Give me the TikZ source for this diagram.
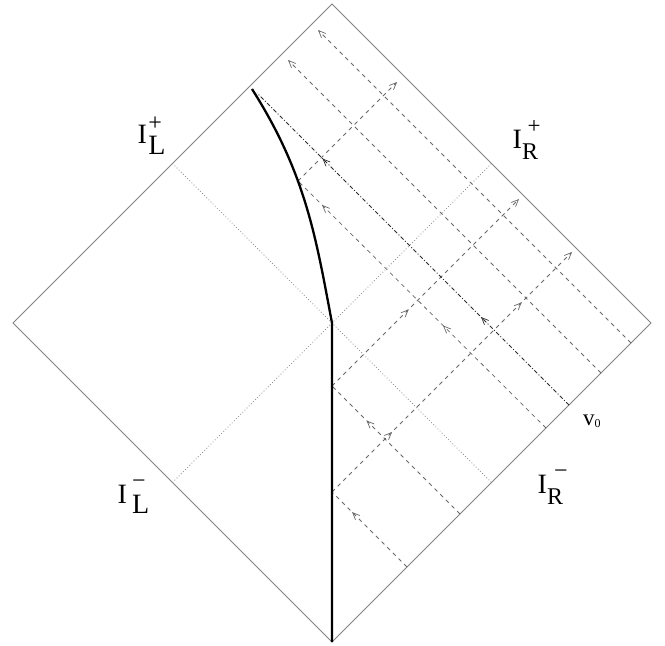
\documentclass[tikz,border=0pt]{standalone}
\usepackage{fontspec}
\setmainfont{Liberation Serif}
\usetikzlibrary{arrows.meta,decorations.markings}
\definecolor{framegray}{RGB}{130,130,130}
\definecolor{raygray}{RGB}{105,105,105}
\definecolor{vgray}{RGB}{45,45,45}
\definecolor{dotgray}{RGB}{145,145,145}
\begin{document}
\begin{tikzpicture}[x=1pt,y=-1pt,
  frame/.style={draw=framegray, line width=0.8pt},
  mirror/.style={draw=black, line width=2.3pt, line join=round},
  ray/.style={draw=raygray, line width=0.75pt, dash pattern=on 4pt off 4pt},
  vray/.style={draw=vgray, line width=0.8pt, dash pattern=on 4pt off 2pt on 1pt off 2pt},
  horizon/.style={draw=dotgray, line width=0.8pt, dash pattern=on 0.8pt off 2.2pt},
  tipat/.style={postaction={decorate, decoration={markings,
      mark=at position #1 with {\arrow[line width=0.7pt]{Straight Barb[length=7pt,width=6pt]}}}}},
  endtip/.style={-{Straight Barb[length=7pt,width=6pt,line width=0.7pt]}},
  lbl/.style={inner sep=0pt, anchor=base west, font=\fontsize{28}{28}\selectfont}
]
\useasboundingbox (0,0) rectangle (665,646);
% diamond vertices
\coordinate (T) at (332,4);
\coordinate (Rv) at (651,323);
\coordinate (B) at (332,642);
\coordinate (Lv) at (13,323);
\coordinate (C) at (332,323);
\coordinate (Mt) at (252,89);
% edge midpoints
\coordinate (mUL) at (172.5,163.5);
\coordinate (mLR) at (491.5,482.5);
\coordinate (mLL) at (172.5,482.5);
\coordinate (mUR) at (491.5,163.5);
% ray endpoints
\coordinate (L1) at (407,567);
\coordinate (M1) at (332,492);
\coordinate (E1) at (572,252);
\coordinate (L2) at (460,514);
\coordinate (M2) at (332,386);
\coordinate (E2) at (519,199);
\coordinate (L3) at (546,428);
\coordinate (M3) at (298,181);
\coordinate (E3) at (397,82);
\coordinate (L4) at (569,405);
\coordinate (T4) at (257,93);
\coordinate (L5) at (601,373);
\coordinate (E5) at (288,60);
\coordinate (L6) at (631,343);
\coordinate (E6) at (318,30);

% frame
\draw[frame] (T) -- (Rv) -- (B) -- (Lv) -- cycle;
% horizons through the centre
\draw[horizon] (mUL) -- (C) -- (mLR);
\draw[horizon] (mLL) -- (C) -- (mUR);

% rays
\draw[ray, tipat=0.733] (L1) -- (M1);
\draw[ray, endtip, tipat=0.25, tipat=0.79] (M1) -- (E1);
\draw[ray, tipat=0.73] (L2) -- (M2);
\draw[ray, endtip, tipat=0.41] (M2) -- (E2);
\draw[ray, tipat=0.415, tipat=0.903] (L3) -- (M3);
\draw[ray, endtip] (M3) -- (E3);
\draw[vray, tipat=0.282, tipat=0.79] (L4) -- (T4);
\draw[ray, endtip] (L5) -- (E5);
\draw[ray, endtip] (L6) -- (E6);

% mirror
\draw[mirror] (B) -- (C) .. controls (316,238) and (306,174) .. (Mt);

% labels
\node[lbl] (ILp) at (137.5,143) {I\kern1.4pt\rlap{\raisebox{12.5pt}{\fontsize{24}{24}\selectfont +}}\raisebox{-11pt}{L}};
\node[lbl] (IRp) at (512.5,148) {I\rlap{\kern5.5pt\raisebox{15pt}{\fontsize{23}{23}\selectfont +}}\raisebox{-11pt}{\fontsize{24}{24}\selectfont R}};
\node[lbl] (ILm) at (117.5,503) {I\kern5pt\rlap{\raisebox{15pt}{\fontsize{24}{24}\selectfont −}}\raisebox{-10pt}{L}};
\node[lbl] (IRm) at (537.5,493) {I\rlap{\kern7pt\raisebox{15pt}{\fontsize{24}{24}\selectfont −}}\raisebox{-11pt}{\fontsize{24}{24}\selectfont R}};
\node[lbl] (v0) at (583,425) {\fontsize{23}{23}\selectfont v\raisebox{-2pt}{\fontsize{12}{12}\selectfont 0}};
\end{tikzpicture}
\end{document}
